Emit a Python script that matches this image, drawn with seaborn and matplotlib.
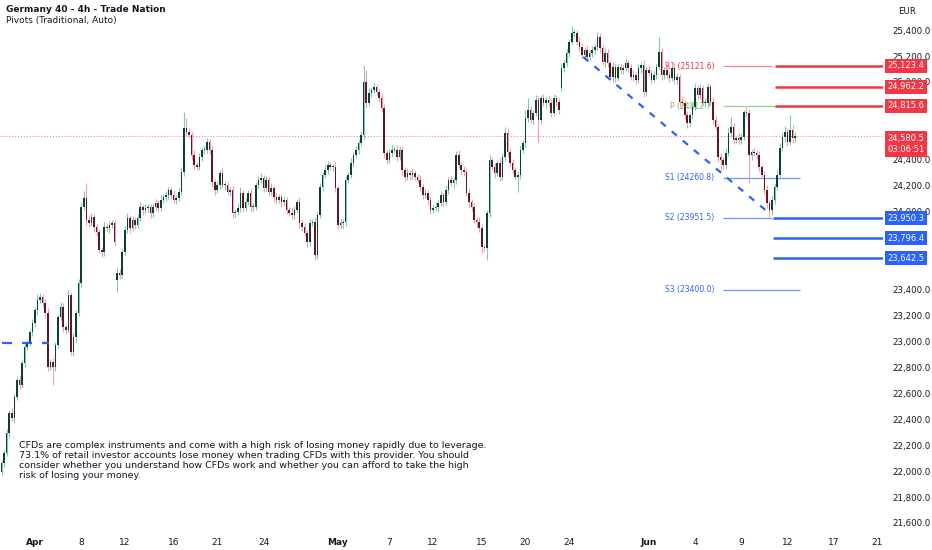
import numpy as np
import pandas as pd
import matplotlib
matplotlib.use("Agg")
import matplotlib.pyplot as plt
import matplotlib.transforms as mtransforms
import seaborn as sns

# 4h closes, Germany 40
closes = [
    22063, 22140, 22294, 22448, 22410, 22571, 22703, 22664, 22834,
    22957, 22988, 23073, 23142, 23242, 23319, 23342, 23296,
    23219, 22803, 22841, 22803, 22972, 23188, 23265, 23111, 23088, 23358,
    22918, 23034, 23219, 23450, 24036, 24106, 23936, 23913, 23959, 23882,
    23844, 23705, 23689, 23882, 23874, 23898, 23913, 23766, 23528, 23512,
    23689, 23859, 23952, 23874, 23936, 23898, 23950, 24036, 24013, 24029, 24036,
    23990, 24040, 24067, 24029, 24090, 24113, 24129, 24167, 24130, 24090, 24106, 24152,
    24306, 24645, 24615, 24591, 24437, 24360, 24345, 24422, 24476, 24476,
    24538, 24476, 24229, 24167, 24206, 24298, 24206, 24206, 24152, 24167,
    23990, 23998, 24029, 24144, 24029, 24075, 24144, 24036, 24036, 24206,
    24245, 24260, 24183, 24245, 24152, 24183, 24113, 24090, 24113, 24075,
    24090, 24013, 23990, 23975, 24013, 24075, 23913, 23882, 23836, 23766,
    23913, 23921, 23666, 23975, 24191, 24283, 24322, 24360, 24345, 24345,
    24183, 23898, 23913, 23921, 24245, 24283, 24376, 24437, 24476, 24530,
    24591, 25000, 24838, 24915, 24938, 24962, 24923, 24877, 24800, 24453,
    24399, 24453, 24476, 24476, 24422, 24476, 24322, 24268, 24298, 24283,
    24298, 24268, 24245, 24191, 24129, 24144, 24090, 24013, 24029, 24036,
    24067, 24129, 24075, 24167, 24245, 24221, 24245, 24437, 24360, 24322,
    24306, 24144, 24075, 24036, 23936, 23921, 23874, 23728, 23720, 23990,
    24399, 24345, 24298, 24376, 24268, 24422, 24607, 24460, 24376, 24322,
    24268, 24283, 24476, 24530, 24723, 24784, 24707, 24761, 24861, 24707,
    24877, 24838, 24861, 24838, 24761, 24877, 24846, 24784, 25108, 25147,
    25224, 25309, 25378, 25378, 25309, 25270, 25208, 25247, 25193, 25224,
    25247, 25270, 25347, 25262, 25154, 25224, 25147, 25039, 25116, 25031,
    25116, 25093, 25108, 25147, 25108, 25039, 25054, 25016, 25108, 25131,
    24923, 25093, 25070, 25016, 25054, 25116, 25231, 25054, 25093, 25054,
    25031, 25108, 25016, 25039, 24846, 24838, 24746, 24684, 24746, 24807,
    24954, 24900, 24954, 24838, 24838, 24962, 24846, 24707, 24653, 24422,
    24399, 24360, 24453, 24607, 24653, 24553, 24568, 24553, 24576, 24769,
    24761, 24437, 24460, 24453, 24437, 24345, 24283, 24167, 24067, 24013,
    24090, 24191, 24283, 24491, 24576, 24615, 24538, 24630, 24568, 24580.5,
]
first_open = 21993
gap_opens = {45: 23474, 218: 24954}   # weekend gaps

# wick length above / below the body, in points
wick_hi = [
    20, 25, 30, 20, 35, 20, 30, 40, 25,
    20, 25, 20, 30, 25, 45, 30, 25,
    30, 40, 25, 30, 20, 25, 35, 30, 25, 40,
    25, 30, 20, 30, 40, 55, 115, 40, 30, 25,
    30, 25, 20, 35, 25, 30, 20, 25, 40, 30,
    25, 30, 35, 25, 30, 20, 30, 40, 25, 30, 20,
    25, 30, 30, 20, 35, 25, 30, 25, 25, 40, 20, 30,
    35, 124, 80, 30, 25, 35, 20, 30, 25, 40,
    30, 25, 35, 20, 30, 25, 40, 30, 25, 20,
    30, 25, 35, 45, 20, 30, 25, 35, 30, 25,
    30, 40, 25, 30, 20, 35, 25, 30, 20, 25,
    30, 20, 25, 35, 30, 25, 40, 20, 30, 25,
    30, 25, 35, 20, 30, 25, 40, 30, 25, 20,
    35, 25, 30, 20, 30, 25, 35, 20, 30, 25,
    30, 131, 93, 35, 25, 30, 20, 25, 40, 30,
    25, 30, 35, 25, 40, 20, 30, 25, 35, 20,
    30, 25, 20, 35, 25, 30, 20, 25, 30, 35,
    25, 30, 20, 35, 25, 30, 25, 30, 40, 25,
    30, 25, 35, 20, 30, 25, 40, 30, 25, 20,
    35, 25, 30, 20, 40, 30, 46, 35, 25, 30,
    25, 30, 35, 20, 60, 90, 30, 25, 35, 30,
    25, 30, 20, 35, 25, 30, 25, 30, 35, 25,
    30, 25, 54, 30, 25, 40, 30, 25, 35, 20,
    30, 25, 35, 30, 25, 40, 30, 25, 35, 30,
    25, 30, 20, 35, 25, 30, 40, 25, 30, 20,
    35, 25, 30, 20, 30, 25, 116, 30, 25, 35,
    30, 25, 40, 30, 25, 35, 20, 30, 25, 30,
    35, 25, 30, 20, 35, 30, 25, 40, 30, 25,
    30, 25, 35, 40, 77, 30, 25, 35, 30, 15,
    40, 30, 25, 35, 20, 30, 25, 30, 35, 25,
    30, 25, 35, 40, 30, 45, 30, 115, 40, 35,
]
wick_lo = [
    25, 30, 20, 35, 25, 40, 25, 30, 20,
    35, 20, 25, 30, 20, 35, 25, 30,
    40, 30, 25, 140, 30, 25, 20, 35, 30, 25,
    25, 30, 35, 20, 30, 25, 40, 30, 25, 35,
    30, 25, 40, 30, 25, 35, 20, 30, 93, 30,
    25, 30, 20, 35, 25, 30, 25, 25, 40, 20, 30,
    35, 30, 25, 30, 20, 25, 30, 35, 30, 25, 30, 20,
    25, 30, 35, 25, 40, 30, 25, 20, 35, 30,
    25, 30, 40, 35, 25, 30, 20, 35, 25, 30,
    40, 30, 25, 35, 30, 25, 20, 35, 30, 25,
    30, 25, 35, 20, 30, 25, 40, 30, 25, 35,
    25, 30, 20, 35, 30, 25, 40, 30, 25, 35,
    30, 25, 38, 30, 25, 35, 20, 30, 25, 30,
    35, 30, 25, 40, 30, 25, 20, 30, 25, 35,
    25, 30, 35, 25, 30, 20, 25, 35, 30, 40,
    30, 25, 35, 20, 30, 25, 40, 30, 25, 35,
    30, 25, 20, 35, 30, 25, 40, 30, 25, 20,
    35, 25, 30, 20, 30, 25, 35, 30, 25, 40,
    30, 25, 35, 30, 25, 40, 30, 46, 30, 92,
    30, 25, 35, 20, 30, 25, 30, 35, 25, 30,
    25, 116, 30, 25, 35, 30, 25, 30, 20, 177,
    30, 25, 35, 20, 30, 25, 35, 30, 25, 30,
    25, 30, 20, 35, 25, 30, 25, 40, 30, 25,
    35, 30, 25, 30, 20, 35, 30, 25, 40, 30,
    25, 30, 35, 25, 30, 20, 35, 30, 25, 40,
    38, 30, 25, 35, 20, 30, 25, 35, 30, 25,
    30, 25, 35, 30, 40, 25, 30, 35, 25, 30,
    25, 30, 35, 25, 30, 20, 35, 30, 25, 40,
    77, 38, 30, 25, 35, 30, 25, 35, 30, 25,
    30, 216, 35, 25, 30, 35, 25, 30, 40, 53,
    35, 30, 25, 30, 25, 35, 30, 25, 35, 30,
]

date_ticks = [13, 31, 48, 67, 84, 102, 131, 151, 168, 187, 204, 221,
              252, 270, 288, 306, 324, 341]
date_labels = ["Apr", "8", "12", "16", "21", "24", "May", "7", "12", "15",
               "20", "24", "Jun", "4", "9", "12", "17", "21"]
month_labels = ["Apr", "May", "Jun"]

# price scale labels (the ones hidden behind the level boxes are left out)
price_ticks = [21600, 21800, 22000, 22200, 22400, 22600, 22800, 23000, 23200,
               23400, 24000, 24200, 24400, 25000, 25200, 25400]

pivot_names = ["R1", "P", "S1", "S2", "S3"]
pivot_values = [25121.6, 24812.7, 24260.8, 23951.5, 23400.0]
pivot_ends = [300, 302, 311, 300, 311]
pivot_start = 281

red_levels = [25123.4, 24962.2, 24815.6]
blue_levels = [23950.3, 23796.4, 23642.5]
level_start = 301

last_price = 24580.5
countdown = "03:06:51"

trend_x = [226.5, 298.8]
trend_y = [25193, 23990]
old_x = [0, 18.5]
old_y = [22988, 22988]

disclaimer = ("CFDs are complex instruments and come with a high risk of losing money rapidly due to leverage.\n"
              "73.1% of retail investor accounts lose money when trading CFDs with this provider. You should\n"
              "consider whether you understand how CFDs work and whether you can afford to take the high\n"
              "risk of losing your money.")

sns.set_theme(style="white")
plt.rcParams["font.family"] = ["DejaVu Sans"]

RED = "#f23645"
BLUE = "#2962ff"
TXT = "#131722"

n = len(closes)
opens = [first_open] + closes[:-1]
for k, v in gap_opens.items():
    opens[k] = v
df = pd.DataFrame({"i": np.arange(n), "open": opens, "close": closes,
                   "whi": wick_hi, "wlo": wick_lo})
df["top"] = df[["open", "close"]].max(axis=1)
df["bot"] = df[["open", "close"]].min(axis=1)
df["high"] = df["top"] + df["whi"]
df["low"] = df["bot"] - df["wlo"]
df["up"] = df["close"] >= df["open"]

fig = plt.figure(figsize=(9.32, 5.5), dpi=100)
ax = fig.add_axes([0, 20 / 550, 883 / 932, 530 / 550])
x_right = 343.2
ax.set_xlim(-0.6, x_right)
ax.set_ylim(21546, 25632)

# current price dotted line
ax.axhline(last_price, color=RED, lw=0.7, ls=(0, (1, 2)), alpha=0.7, zorder=1)

# candles
wick_c = np.where(df["up"], "#7ccbb3", "#f4a0ab")
body_c = np.where(df["up"], "#123d31", "#5e1a24")
ax.vlines(df["i"], df["low"], df["high"], colors=wick_c, lw=0.8, zorder=2)
ax.bar(df["i"], np.maximum(df["top"] - df["bot"], 6), bottom=df["bot"],
       width=0.62, color=body_c, lw=0, zorder=3)

# trend lines
sns.lineplot(x=trend_x, y=trend_y, ax=ax, color=BLUE, lw=1.6,
             linestyle=(0, (3, 3.5)), zorder=4)
sns.lineplot(x=old_x, y=old_y, ax=ax, color=BLUE, lw=1.6,
             linestyle=(0, (4.5, 4.5)), zorder=4)

# pivots
piv_colors = {"R1": "#f7848e", "P": "#8fcf8f", "S1": "#6f94ff", "S2": "#6f94ff", "S3": "#6f94ff"}
lab_colors = {"R1": RED, "P": "#66bb6a", "S1": BLUE, "S2": BLUE, "S3": BLUE}
for name, val, end in zip(pivot_names, pivot_values, pivot_ends):
    ax.hlines(val, pivot_start, end, color=piv_colors[name], lw=0.9, zorder=1.5)
    ax.text(277.5, val, f"{name} ({val:.1f})", ha="right", va="center",
            fontsize=5.5, color=lab_colors[name], zorder=1.5)

ax.hlines(red_levels, level_start, x_right, color=RED, lw=1.8, zorder=5)
ax.hlines(blue_levels, level_start - 0.5, x_right, color=BLUE, lw=1.8, zorder=5)

trans = mtransforms.blended_transform_factory(ax.transAxes, ax.transData)
box_kw = dict(transform=trans, ha="left", va="center", fontsize=6.0, color="white",
              clip_on=False, zorder=10)
for lvl in red_levels:
    ax.text(1.005, lvl, f"{lvl:,.1f}", bbox=dict(boxstyle="square,pad=0.3", fc=RED, ec="none"), **box_kw)
for lvl in blue_levels:
    ax.text(1.005, lvl, f"{lvl:,.1f}", bbox=dict(boxstyle="square,pad=0.3", fc=BLUE, ec="none"), **box_kw)
ax.text(1.005, last_price - 60, f"{last_price:,.1f}\n{countdown}", multialignment="right",
        linespacing=1.35, bbox=dict(boxstyle="square,pad=0.3", fc=RED, ec="none"), **box_kw)

# axes
ax.yaxis.tick_right()
ax.set_yticks(price_ticks, [f"{v:,.0f}.0" for v in price_ticks])
ax.tick_params(axis="y", length=0, pad=7, labelsize=6.2, labelcolor=TXT)
ax.set_xticks(date_ticks, date_labels)
ax.tick_params(axis="x", length=0, pad=6, labelsize=6.5, labelcolor=TXT)
for lab in ax.get_xticklabels():
    if lab.get_text() in month_labels:
        lab.set_fontweight("bold")
for s in ax.spines.values():
    s.set_visible(False)
ax.grid(False)

fig.text(6 / 932, 1 - 9 / 550, "Germany 40 - 4h - Trade Nation", fontsize=6.5,
         fontweight="bold", color=TXT, va="center")
fig.text(6 / 932, 1 - 21 / 550, "Pivots (Traditional, Auto)", fontsize=6.5,
         color=TXT, va="center")
fig.text(907 / 932, 1 - 12 / 550, "EUR", fontsize=6.2, color=TXT, ha="center", va="center")
fig.text(19 / 932, 1 - 441 / 550, disclaimer, fontsize=6.8, color=TXT, va="top",
         linespacing=1.15)

fig.savefig("out.png", dpi=100, facecolor="white")
